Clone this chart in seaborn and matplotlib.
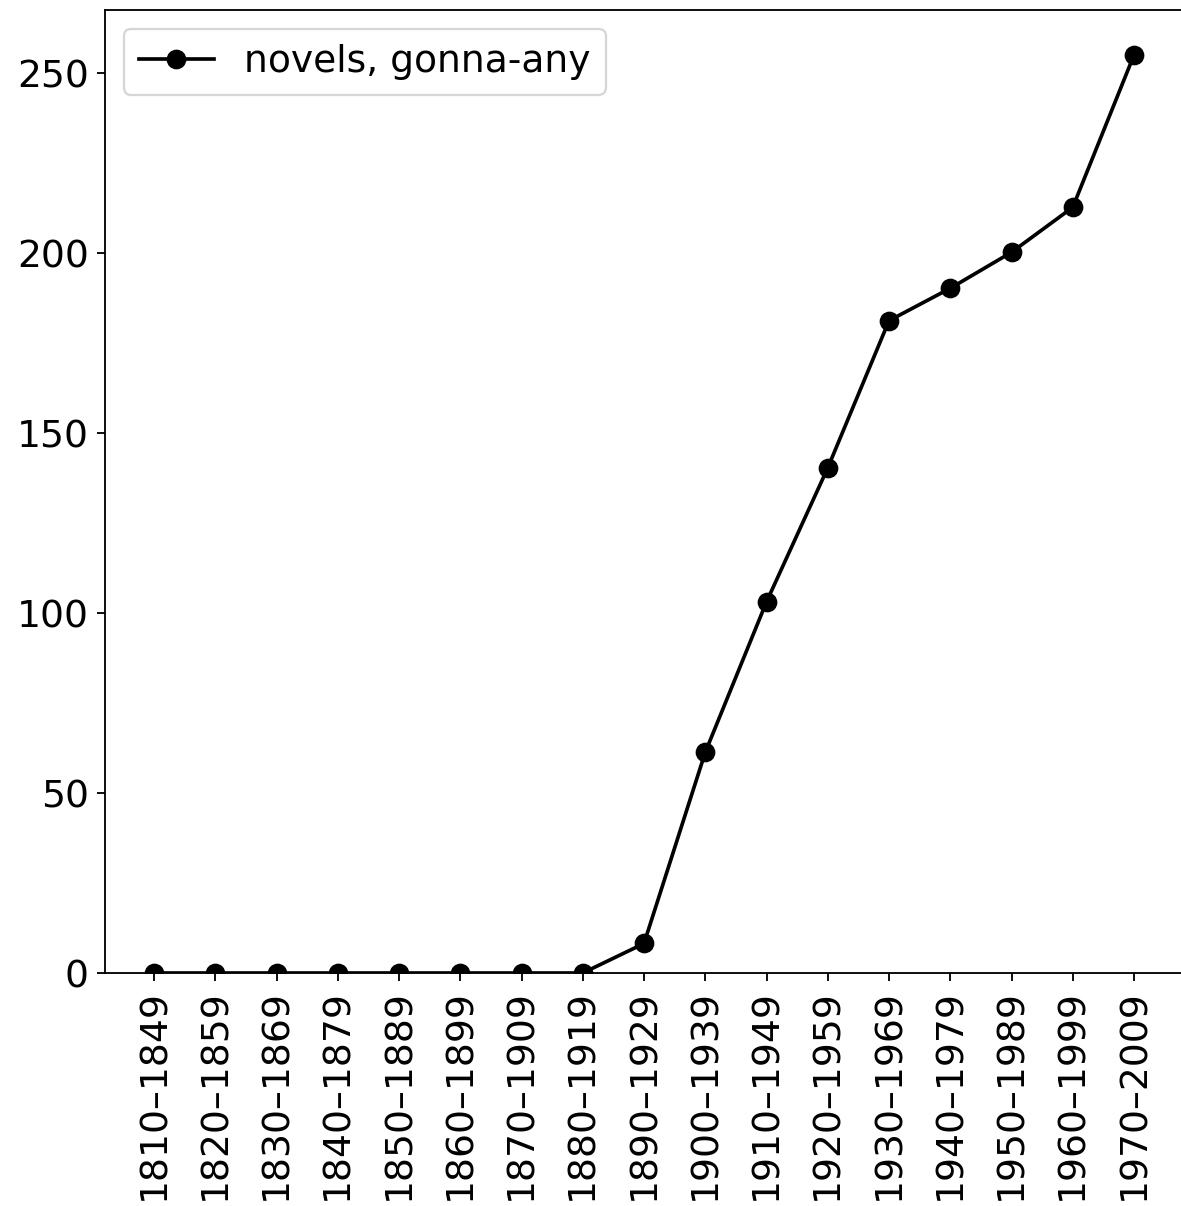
import matplotlib
matplotlib.use("Agg")
import matplotlib.pyplot as plt
import seaborn as sns
import pandas as pd

# Periods (rolling spans) and frequency of "gonna-any" in novels
periods = [
    "1810–1849", "1820–1859", "1830–1869", "1840–1879", "1850–1889",
    "1860–1899", "1870–1909", "1880–1919", "1890–1929", "1900–1939",
    "1910–1949", "1920–1959", "1930–1969", "1940–1979", "1950–1989",
    "1960–1999", "1970–2009",
]
values = [0, 0, 0, 0, 0, 0, 0, 0, 8.2, 61.3, 103.1, 140.3, 181.2, 190.2, 200.2, 212.7, 255.0]
series_label = "novels, gonna-any"

df = pd.DataFrame({"period": periods, "value": values})

DPI = 165
plt.rcParams.update({
    "font.size": 16.4,
    "font.family": ["DejaVu Sans"],
})

fig = plt.figure(figsize=(1181 / DPI, 1206 / DPI), dpi=DPI)
W, H = 1181, 1206
left, right, top, bottom = 105, 1183, 10, 973
ax = fig.add_axes([left / W, 1 - bottom / H, (right - left) / W, (bottom - top) / H])

sns.lineplot(
    data=df, x="period", y="value", ax=ax,
    color="black", marker="o", markersize=7.6,
    markeredgecolor="black", markeredgewidth=1,
    linewidth=1.6, label=series_label, sort=False,
)

ax.set_xlim(-0.8, len(periods) - 1 + 0.8)
ax.set_ylim(0, 267.5)
ax.set_yticks([0, 50, 100, 150, 200, 250])
ax.set_xticks(range(len(periods)))
ax.set_xticklabels(periods, rotation=90)
ax.set_xlabel("")
ax.set_ylabel("")
for s in ax.spines.values():
    s.set_visible(True)
    s.set_color("black")
    s.set_linewidth(0.8)

ax.legend(loc="upper left")

fig.savefig("out.png", dpi=DPI)
